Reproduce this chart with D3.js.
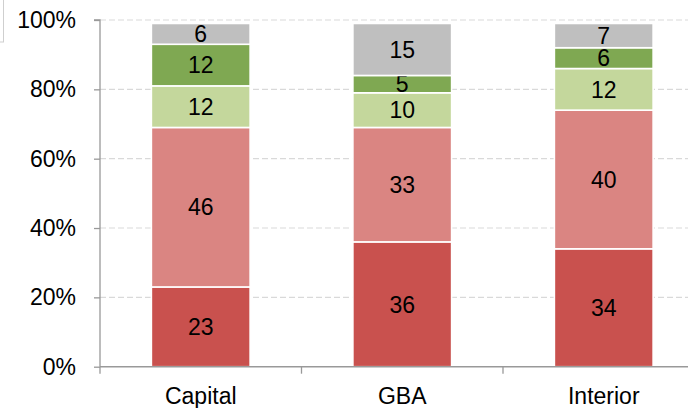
<!DOCTYPE html>
<html>
<head>
<meta charset="utf-8">
<script src="https://cdn.jsdelivr.net/npm/d3@7"></script>
<style>
  html, body { margin: 0; padding: 0; background: #fff; }
  svg { display: block; }
  text { font-family: "Liberation Sans", Arial, sans-serif; fill: #000; }
</style>
</head>
<body>
<svg id="chart" width="688" height="408"></svg>
<script>
const categories = ["Capital", "GBA", "Interior"];
const seriesNames = ["s1", "s2", "s3", "s4", "s5"];
const s1 = [23, 36, 34];
const s2 = [46, 33, 40];
const s3 = [12, 10, 12];
const s4 = [12, 5, 6];
const s5 = [6, 15, 7];
const seriesValues = [s1, s2, s3, s4, s5];
const seriesColors = ["#C9514E", "#DA8582", "#C4D79C", "#7FA852", "#BFBFBF"];
const yTicks = [0, 20, 40, 60, 80, 100];

const svg = d3.select("#chart");
const x0 = 100, x1 = 704.5, yBottom = 366.7, yTop = 20;

const x = d3.scaleBand().domain(categories).range([x0, x1]).paddingInner(0.51).paddingOuter(0.255);
const y = d3.scaleLinear().domain([0, 100]).range([yBottom, yTop]);

// top-left partial box
svg.append("rect").attr("x", -20).attr("y", -20).attr("width", 23.5).attr("height", 62)
  .attr("fill", "none").attr("stroke", "#cfcfcf").attr("stroke-width", 1);

// gridlines
svg.append("g").selectAll("line").data(yTicks.filter(d => d > 0)).join("line")
  .attr("x1", x0).attr("x2", 688).attr("y1", d => y(d)).attr("y2", d => y(d))
  .attr("stroke", "#d9d9d9").attr("stroke-width", 1.2).attr("stroke-dasharray", "6,3");

// stacked data
const table = categories.map((c, i) => {
  const o = { cat: c };
  seriesNames.forEach((s, k) => o[s] = seriesValues[k][i]);
  return o;
});
const stack = d3.stack().keys(seriesNames)(table);

const layers = svg.append("g").selectAll("g").data(stack).join("g")
  .attr("fill", (d, i) => seriesColors[i]);
layers.selectAll("rect").data(d => d).join("rect")
  .attr("x", d => x(d.data.cat))
  .attr("width", x.bandwidth())
  .attr("y", d => y(d[1]))
  .attr("height", d => y(d[0]) - y(d[1]))
  .attr("stroke", "#fff").attr("stroke-width", 1.6);

layers.selectAll("text").data(d => d.map(v => ({ v, key: d.key }))).join("text")
  .attr("x", d => x(d.v.data.cat) + x.bandwidth() / 2)
  .attr("y", d => (y(d.v[0]) + y(d.v[1])) / 2)
  .attr("dy", "0.36em")
  .attr("text-anchor", "middle")
  .attr("font-size", 23)
  .attr("fill", "#000")
  .text(d => d.v.data[d.key]);

// y axis
const yAxis = d3.axisLeft(y).tickValues(yTicks).tickSize(6).tickPadding(18).tickFormat(d => d + "%");
const gy = svg.append("g").attr("transform", `translate(${x0},0)`).call(yAxis);
gy.select(".domain").attr("stroke", "#999").attr("stroke-width", 1.3).attr("d", `M-6,${yTop}H0V${yBottom}`);
gy.selectAll(".tick line").attr("stroke", "#999").attr("stroke-width", 1.3);
gy.selectAll(".tick text").attr("font-size", 23).attr("font-family", "Liberation Sans, Arial, sans-serif").attr("fill", "#000");

// x axis
const xAxis = d3.axisBottom(x).tickSize(0).tickPadding(0);
const gx = svg.append("g").attr("transform", `translate(0,${yBottom})`).call(xAxis);
gx.select(".domain").attr("stroke", "#999").attr("stroke-width", 1.5).attr("d", `M${x0},0H${x1}`);
gx.selectAll(".tick text").attr("font-size", 23).attr("font-family", "Liberation Sans, Arial, sans-serif")
  .attr("fill", "#000").attr("dy", 0).attr("y", 37);
// category boundary ticks
const bounds = [x0].concat(categories.map(c => x(c) + x.bandwidth() / 2 + x.step() / 2));
gx.append("g").selectAll("line").data(bounds).join("line")
  .attr("x1", d => d).attr("x2", d => d).attr("y1", 0).attr("y2", 7)
  .attr("stroke", "#999").attr("stroke-width", 1.3);
</script>
</body>
</html>
